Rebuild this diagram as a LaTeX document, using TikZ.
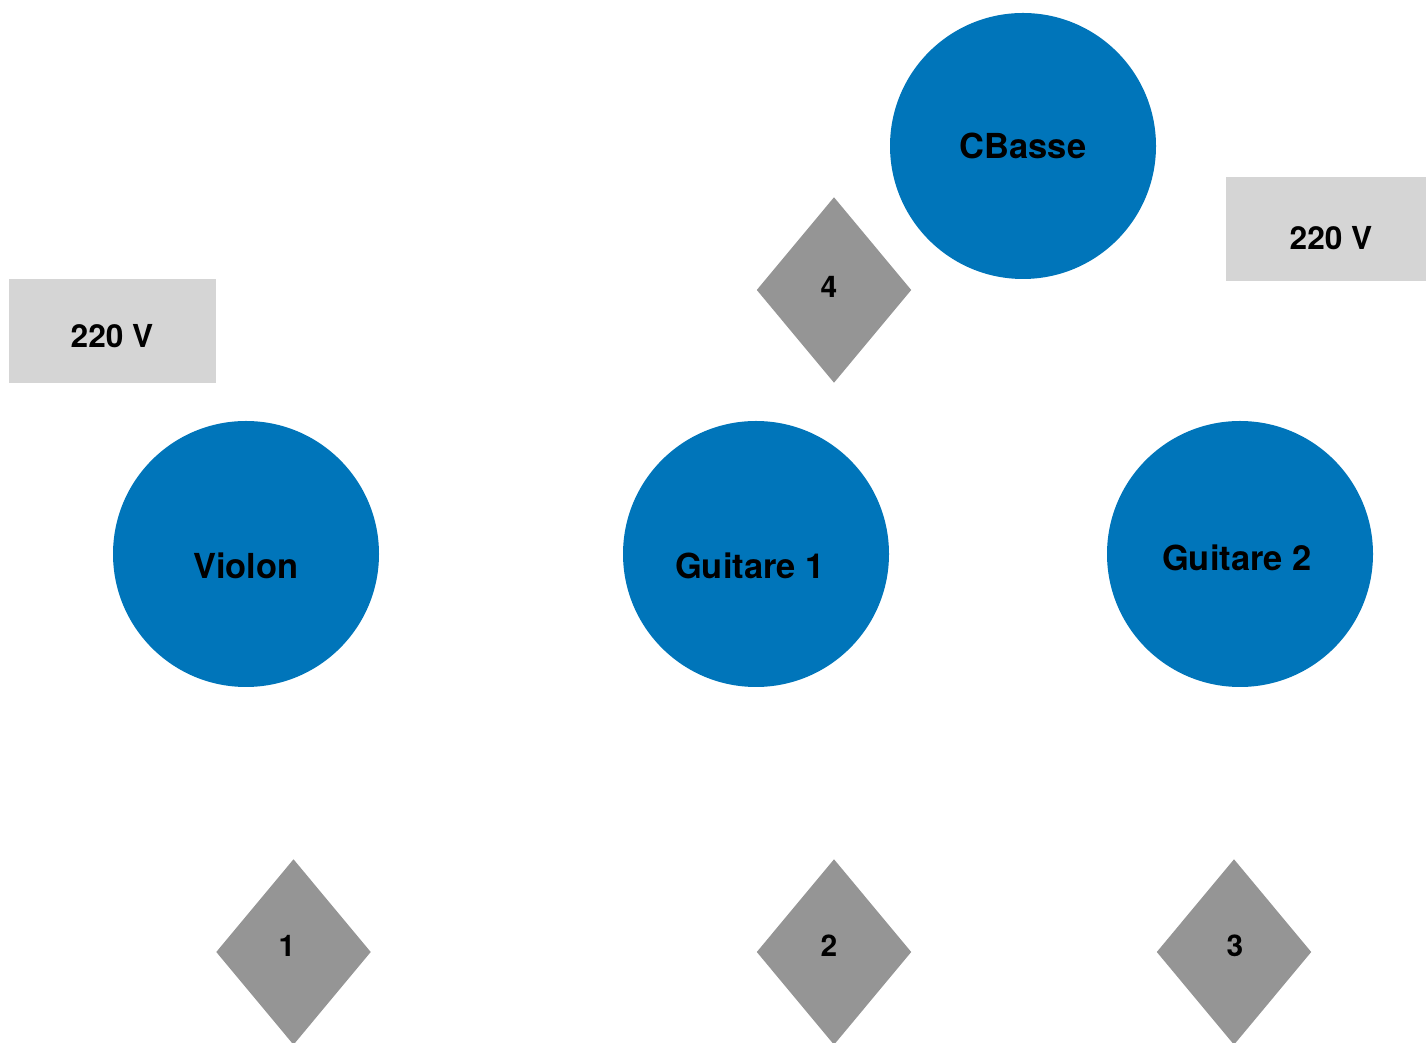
\documentclass[tikz,border=0pt]{standalone}
\usepackage{fontspec}
\setmainfont{TeX Gyre Heros}
\usetikzlibrary{shapes.geometric}

\definecolor{instblue}{RGB}{0,117,186}
\definecolor{plugrey}{RGB}{149,149,149}
\definecolor{boxgrey}{RGB}{213,213,213}

\begin{document}
\begin{tikzpicture}[
    instrument/.style ={circle, fill=instblue, inner sep = 0pt, minimum size=2.66cm,
                        font=\fontsize{9.8}{11}\selectfont\bfseries},
    socket/.style ={diamond, fill=plugrey, inner sep = 0pt, minimum width=1.55cm,
                    minimum height=1.86cm, font=\fontsize{8.5}{10}\selectfont\bfseries},
    power/.style ={rectangle, fill=boxgrey, inner sep = 0pt, minimum height=1.04cm,
                   font=\fontsize{9.0}{10}\selectfont\bfseries}]
   \useasboundingbox (0,0) rectangle (14.26,10.42);

   \node[instrument] (C)  at (10.23,8.96) {CBasse};
   \node[instrument] (V)  [label={[yshift=-0.12cm, font=\fontsize{9.8}{11}\selectfont\bfseries]center:Violon}] at (2.46,4.88) {};
   \node[instrument] (G1) [label={[xshift=-0.06cm, yshift=-0.12cm, font=\fontsize{9.8}{11}\selectfont\bfseries]center:Guitare 1}] at (7.56,4.88) {};
   \node[instrument] (G2) [label={[xshift=-0.03cm, yshift=-0.04cm, font=\fontsize{9.8}{11}\selectfont\bfseries]center:Guitare 2}] at (12.40,4.88) {};

   \node[power, minimum width=2.07cm] (P1) at (1.125,7.11) {};
   \node[font=\fontsize{9.0}{10}\selectfont\bfseries] (T1) at (1.12,7.06) {220 V};
   \node[power, minimum width=2.00cm] (P2) at (13.26,8.13) {};
   \node[font=\fontsize{9.0}{10}\selectfont\bfseries] (T2) at (13.31,8.04) {220 V};

   \node[socket] (S4) at (8.34,7.52) {};
   \node[socket] (S1) at (2.935,0.90) {};
   \node[socket] (S2) at (8.34,0.90) {};
   \node[socket] (S3) at (12.34,0.90) {};
   \node[font=\fontsize{8.5}{10}\selectfont\bfseries] (L4) at (8.29,7.55) {4};
   \node[font=\fontsize{8.5}{10}\selectfont\bfseries] (L1) at (2.87,0.96) {1};
   \node[font=\fontsize{8.5}{10}\selectfont\bfseries] (L2) at (8.29,0.96) {2};
   \node[font=\fontsize{8.5}{10}\selectfont\bfseries] (L3) at (12.35,0.96) {3};
 \end{tikzpicture}
\end{document}
